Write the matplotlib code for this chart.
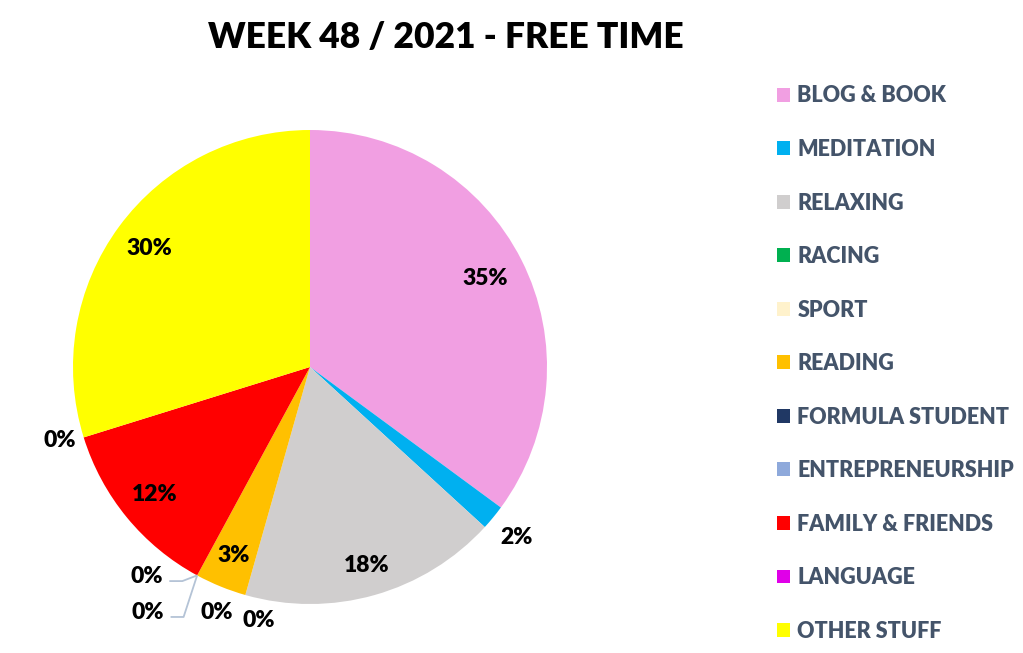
import numpy as np
import matplotlib
matplotlib.use('Agg')
import matplotlib.pyplot as plt

plt.rcParams['font.family'] = ['Lato', 'DejaVu Sans']
plt.rcParams['font.weight'] = 'heavy'

# ---- data ----
categories = ['BLOG & BOOK', 'MEDITATION', 'RELAXING', 'RACING', 'SPORT', 'READING',
              'FORMULA STUDENT', 'ENTREPRENEURSHIP', 'FAMILY & FRIENDS', 'LANGUAGE',
              'OTHER STUFF']
shares = [35.1, 1.7, 17.6, 0.0, 0.0, 3.5, 0.0, 0.0, 12.3, 0.0, 29.8]
pct_labels = ['35%', '2%', '18%', '0%', '0%', '3%', '0%', '0%', '12%', '0%', '30%']
colors = ['#F19FE2', '#00B0F0', '#D0CECE', '#00B050', '#FFF2CC', '#FFC000',
          '#203864', '#8EA9DB', '#FF0000', '#E000E8', '#FFFF00']

# label placement: radial distance, angle nudge (deg) relative to slice middle
label_r = [0.83, 1.13, 0.87, 1.11, 1.09, 0.86, 1.12, 1.24, 0.85, 1.10, 0.84]
label_nudge = [0, 0, 0, -5, 4.5, 0, -9.5, -5, 0, -1, 0]
leader = [False, False, False, False, False, False, True, True, False, False, False]

W, H = 1023, 653
fig = plt.figure(figsize=(W / 100, H / 100), dpi=100)
cx, cy, R = 310, 367, 237
ax = fig.add_axes([(cx - R) / W, (H - cy - R) / H, 2 * R / W, 2 * R / H])

wedges, _ = ax.pie(shares, colors=colors, startangle=90, counterclock=False,
                   radius=1.0, wedgeprops=dict(linewidth=0))
ax.set_xlim(-1, 1)
ax.set_ylim(-1, 1)
ax.set_aspect('equal')

for w, lab, r, nd, ld in zip(wedges, pct_labels, label_r, label_nudge, leader):
    mid = (w.theta1 + w.theta2) / 2 + nd
    x, y = r * np.cos(np.radians(mid)), r * np.sin(np.radians(mid))
    ax.text(x, y, lab, ha='center', va='center', fontsize=16.5, fontweight='heavy',
            color='black')
    if ld:
        ex, ey = np.cos(np.radians(w.theta1)), np.sin(np.radians(w.theta1))
        lx, ly = x + 0.095, y - 0.02
        ax.plot([ex, lx + 0.055, lx], [ey, ly, ly], color='#B4C3D6', lw=1.3,
                clip_on=False, solid_capstyle='butt')

fig.text(446 / W, 1 - 38 / H, 'WEEK 48 / 2021 - FREE TIME', ha='center', va='center',
         fontsize=25.5, fontweight='heavy', color='black')

fig.legend(wedges, categories, loc='upper left',
           bbox_to_anchor=(777 / W, 1 - 85.5 / H), frameon=False,
           labelcolor='#44546A', handlelength=0.62, handleheight=0.62,
           handletextpad=0.32, labelspacing=1.51, borderpad=0, borderaxespad=0,
           prop=dict(weight='heavy', size=15.5))

fig.savefig('out.png', dpi=100)
